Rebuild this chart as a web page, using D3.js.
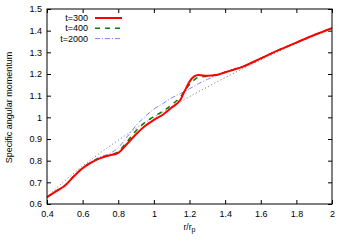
<!DOCTYPE html>
<html><head><meta charset="utf-8">
<script src="https://cdn.jsdelivr.net/npm/d3@7"></script>
<style>body{margin:0;background:#fff}svg{display:block}text{font-family:"Liberation Sans",Arial,sans-serif}</style>
</head><body>
<script>
const rVals = [0.40,0.45,0.50,0.55,0.60,0.65,0.70,0.75,0.80,0.85,0.90,0.95,1.00,1.05,1.10,1.15,1.175,1.20,1.225,1.25,1.30,1.35,1.40,1.45,1.50,1.60,1.70,1.80,1.90,2.00];
const t300  = [0.632,0.658,0.684,0.727,0.765,0.792,0.812,0.824,0.836,0.878,0.922,0.960,0.988,1.012,1.045,1.082,1.125,1.165,1.188,1.195,1.192,1.195,1.208,1.220,1.234,1.272,1.310,1.345,1.380,1.412];
const t400  = [0.632,0.659,0.685,0.728,0.766,0.793,0.813,0.826,0.842,0.888,0.938,0.976,1.004,1.028,1.058,1.095,1.125,1.152,1.172,1.185,1.190,1.195,1.208,1.221,1.234,1.272,1.310,1.345,1.380,1.412];
const t2000 = [0.632,0.660,0.687,0.729,0.767,0.797,0.818,0.832,0.860,0.910,0.962,1.003,1.038,1.063,1.090,1.110,1.120,1.132,1.143,1.155,1.175,1.193,1.210,1.224,1.236,1.273,1.310,1.345,1.380,1.412];
const kepler = [0.632,0.671,0.707,0.742,0.775,0.806,0.837,0.866,0.894,0.922,0.949,0.975,1.000,1.025,1.049,1.072,1.084,1.095,1.107,1.118,1.140,1.162,1.183,1.204,1.225,1.265,1.304,1.342,1.378,1.414];
const xTicks = [0.4,0.6,0.8,1,1.2,1.4,1.6,1.8,2];
const yTicks = [0.6,0.7,0.8,0.9,1,1.1,1.2,1.3,1.4,1.5];
const seriesNames = ["t=300","t=400","t=2000"];

const W=350,H=245, m={l:47,t:9,r:18,b:41};
const svg=d3.select("body").append("svg").attr("width",W).attr("height",H);
const x=d3.scaleLinear().domain([0.4,2]).range([m.l,W-m.r]);
const y=d3.scaleLinear().domain([0.6,1.5]).range([H-m.b,m.t]);

const fs=9;
function styleAxis(g){g.select(".domain").remove();g.selectAll("line").attr("stroke","#000");g.selectAll("text").attr("font-size",fs).attr("fill","#000").attr("font-family","Liberation Sans, Arial, sans-serif");}
svg.append("g").attr("transform",`translate(0,${H-m.b})`).call(d3.axisBottom(x).tickValues(xTicks).tickSize(-4).tickPadding(7).tickFormat(d3.format("~g"))).call(styleAxis);
svg.append("g").attr("transform",`translate(0,${m.t})`).call(d3.axisTop(x).tickValues(xTicks).tickSize(-4).tickFormat("")).call(styleAxis);
svg.append("g").attr("transform",`translate(${m.l},0)`).call(d3.axisLeft(y).tickValues(yTicks).tickSize(-4).tickPadding(5).tickFormat(d3.format("~g"))).call(styleAxis);
svg.append("g").attr("transform",`translate(${W-m.r},0)`).call(d3.axisRight(y).tickValues(yTicks).tickSize(-4).tickFormat("")).call(styleAxis);

svg.append("clipPath").attr("id","c").append("rect").attr("x",m.l).attr("y",m.t).attr("width",W-m.l-m.r).attr("height",H-m.t-m.b);
const line=d3.line().x((d,i)=>x(rVals[i])).y(d=>y(d)).curve(d3.curveMonotoneX);
const pg=svg.append("g").attr("clip-path","url(#c)");
pg.append("path").attr("d",line(kepler)).attr("fill","none").attr("stroke","#707070").attr("stroke-width",1).attr("stroke-dasharray","1,2.5");
const styles=[{c:"#ff0000",w:2,d:null},{c:"#008000",w:1.5,d:"5,5"},{c:"#8080ff",w:1,d:"5,2,1,2"}];
const data=[t300,t400,t2000];
[2,1,0].forEach(k=>{
  const s=styles[k];
  const p=pg.append("path").attr("d",line(data[k])).attr("fill","none").attr("stroke",s.c).attr("stroke-width",s.w);
  if(s.d)p.attr("stroke-dasharray",s.d);
});

svg.append("rect").attr("x",m.l).attr("y",m.t).attr("width",W-m.l-m.r).attr("height",H-m.t-m.b).attr("fill","none").attr("stroke","#000").attr("stroke-width",1);

seriesNames.forEach((n,k)=>{
  const yy=18+k*10.3, s=styles[k];
  svg.append("text").attr("x",88).attr("y",yy+3).attr("text-anchor","end").attr("font-size",fs).text(n);
  const l=svg.append("line").attr("x1",95).attr("x2",122).attr("y1",yy).attr("y2",yy).attr("stroke",s.c).attr("stroke-width",s.w);
  if(s.d)l.attr("stroke-dasharray",s.d);
});

svg.append("text").attr("transform",`translate(12,${(m.t+H-m.b)/2+1}) rotate(-90)`).attr("text-anchor","middle").attr("font-size",fs).text("Specific angular momentum");
const xl=svg.append("text").attr("x",(m.l+W-m.r)/2).attr("y",230).attr("text-anchor","middle").attr("font-size",8.5);
xl.append("tspan").text("r/r");
xl.append("tspan").attr("font-size",7).attr("dy",2).text("p");
</script>
</body></html>
